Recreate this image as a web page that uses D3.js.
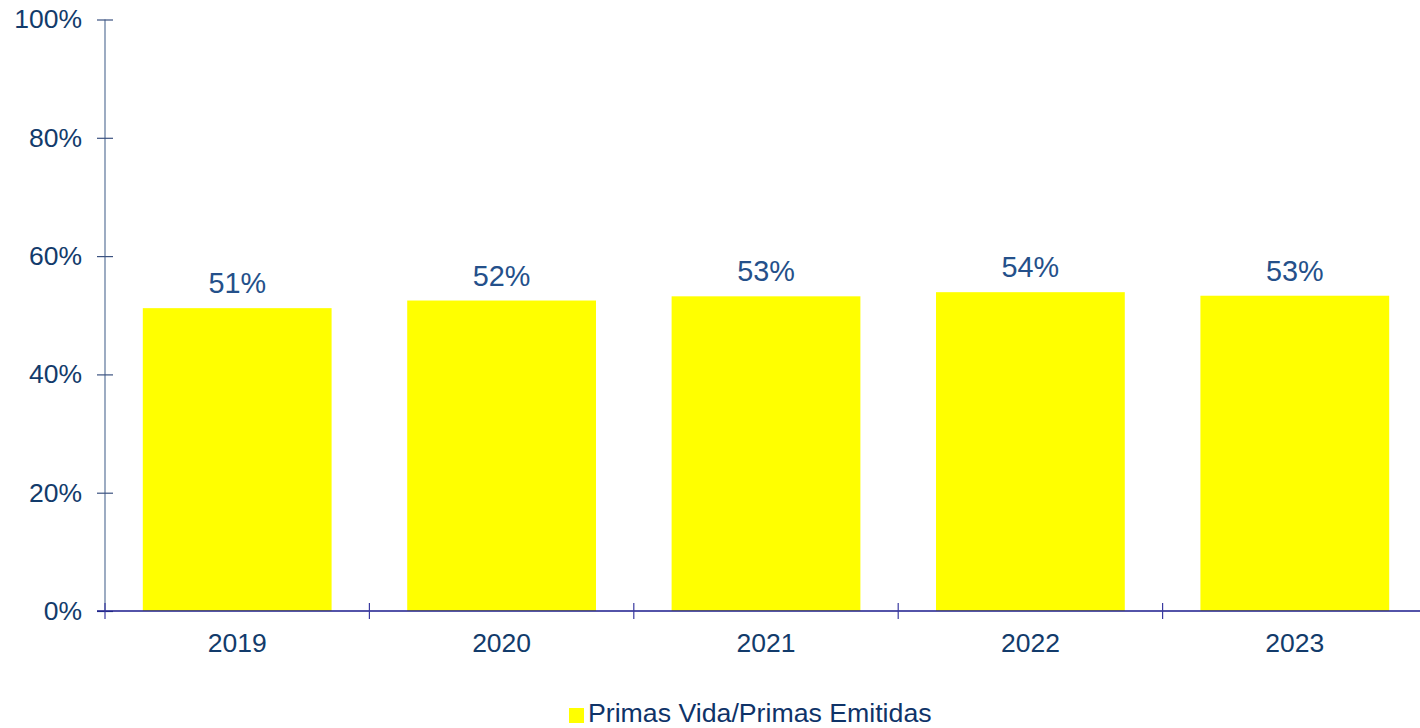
<!DOCTYPE html>
<html>
<head>
<meta charset="utf-8">
<script src="https://cdn.jsdelivr.net/npm/d3@7"></script>
<style>
  html, body { margin: 0; padding: 0; background: #ffffff; }
  svg { display: block; font-family: "Liberation Sans", Arial, sans-serif; }
</style>
</head>
<body>
<svg id="chart" width="1420" height="728"></svg>
<script>
const categories = ["2019", "2020", "2021", "2022", "2023"];
const values = [51.2, 52.49, 53.2, 53.9, 53.3];
const yTicks = [0, 20, 40, 60, 80, 100];
const seriesName = "Primas Vida/Primas Emitidas";

const svg = d3.select("#chart");
const plotLeft = 105, plotRight = 1427, plotTop = 19.5, plotBottom = 611;

const x = d3.scaleBand().domain(categories).range([plotLeft, plotRight]).padding(0);
const y = d3.scaleLinear().domain([0, 100]).range([plotBottom, plotTop]);

// bars
const barFrac = 0.714;
svg.append("g").selectAll("rect").data(categories).join("rect")
  .attr("x", (d) => x(d) + x.bandwidth() * (1 - barFrac) / 2)
  .attr("width", x.bandwidth() * barFrac)
  .attr("y", (d, i) => y(values[i]))
  .attr("height", (d, i) => y(0) - y(values[i]))
  .attr("fill", "#FFFF00");

// data labels
svg.append("g").selectAll("text").data(categories).join("text")
  .attr("x", (d) => x(d) + x.bandwidth() / 2)
  .attr("y", (d, i) => y(values[i]) - 15)
  .attr("text-anchor", "middle")
  .attr("font-size", "28.8px")
  .attr("fill", "#24508A")
  .text((d, i) => Math.round(values[i]) + "%");

// y axis
const yAxis = svg.append("g")
  .attr("transform", `translate(${plotLeft},0)`)
  .call(d3.axisLeft(y).tickValues(yTicks).tickSize(8).tickPadding(15)
    .tickFormat((d) => d + "%"));
yAxis.select(".domain").attr("stroke", "#5B7499").attr("stroke-width", 1.2)
  .attr("d", `M0,${plotTop}V${plotBottom}`);
yAxis.selectAll(".tick line").attr("x1", 8).attr("x2", -8)
  .attr("stroke", "#3B5280").attr("stroke-width", 1.2);
yAxis.selectAll(".tick text").attr("font-size", "26.5px").attr("fill", "#123B6B")
  .attr("font-family", "Liberation Sans, Arial, sans-serif");

// x axis
const xAxis = svg.append("g")
  .attr("transform", `translate(0,${plotBottom})`)
  .call(d3.axisBottom(x).tickSize(8).tickPadding(14));
xAxis.select(".domain").attr("stroke", "#1A1A8C").attr("stroke-width", 1.5)
  .attr("d", `M${plotLeft - 8},0H${plotRight}`);
xAxis.selectAll(".tick line").remove();
xAxis.selectAll(".tick text").attr("font-size", "26.5px").attr("fill", "#123B6B")
  .attr("font-family", "Liberation Sans, Arial, sans-serif");
// band-boundary ticks crossing the axis
const boundaries = categories.map((d) => x(d));
xAxis.append("g").selectAll("line").data(boundaries).join("line")
  .attr("x1", (d) => d).attr("x2", (d) => d)
  .attr("y1", -8).attr("y2", 8)
  .attr("stroke", "#3A3AA0").attr("stroke-width", 1.2);

// legend
const legend = svg.append("g");
legend.append("rect").attr("x", 569).attr("y", 708).attr("width", 15).attr("height", 15)
  .attr("fill", "#FFFF00");
legend.append("text").attr("x", 588).attr("y", 722)
  .attr("font-size", "26.7px").attr("fill", "#0F3368")
  .text(seriesName);
</script>
</body>
</html>
